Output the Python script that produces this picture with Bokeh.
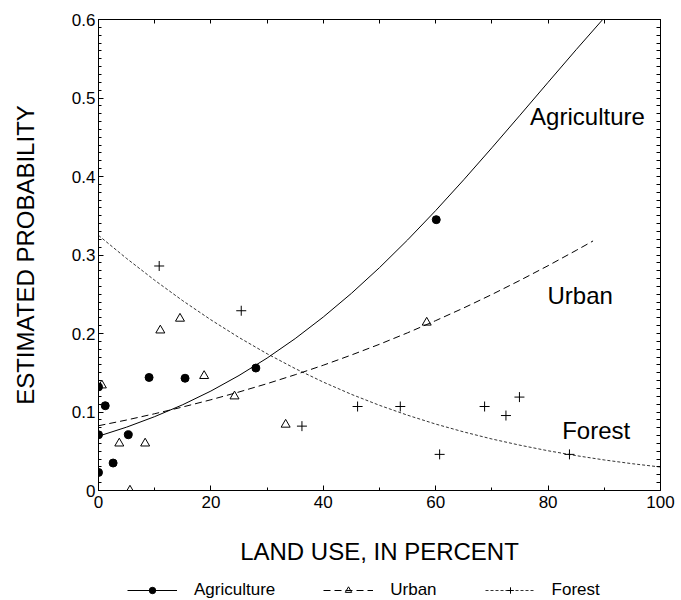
from bokeh.plotting import figure
from bokeh.layouts import column
from bokeh.models import LinearAxis, FixedTicker, Legend, LegendItem, Range1d
from bokeh.core.properties import value
from bokeh.embed import file_html
from bokeh.resources import INLINE

FONT = "Liberation Sans"

# observed points
agri_x = [0, 1.2, 0, 5.3, 2.6, 0, 9.0, 15.4, 28.0, 60.1]
agri_y = [0.132, 0.108, 0.071, 0.071, 0.035, 0.023, 0.144, 0.143, 0.156, 0.345]

urban_x = [0.6, 3.7, 8.3, 5.6, 11.0, 14.5, 18.8, 24.2, 33.3, 58.4]
urban_y = [0.134, 0.060, 0.060, 0.0, 0.204, 0.219, 0.146, 0.120, 0.084, 0.214]

forest_x = [10.8, 25.4, 36.2, 46.1, 53.7, 60.7, 68.7, 72.5, 74.9, 83.8]
forest_y = [0.286, 0.229, 0.082, 0.107, 0.107, 0.046, 0.107, 0.0955, 0.119, 0.046]

# fitted curves
agri_curve_x = [0, 5, 10, 15, 20, 25, 30, 35, 40, 45, 50, 55, 60, 65, 70, 75, 80, 85, 90]
agri_curve_y = [0.0692, 0.0807, 0.0941, 0.1093, 0.1267, 0.1465, 0.1687, 0.1935, 0.2210,
                0.2511, 0.2839, 0.3192, 0.3566, 0.3959, 0.4366, 0.4781, 0.5200, 0.5616, 0.6023]

urban_curve_x = [0, 5, 10, 15, 20, 25, 30, 35, 40, 45, 50, 55, 60, 65, 70, 75, 80, 85, 88]
urban_curve_y = [0.0825, 0.0898, 0.0978, 0.1064, 0.1156, 0.1255, 0.1361, 0.1475, 0.1596,
                 0.1726, 0.1863, 0.2009, 0.2164, 0.2326, 0.2497, 0.2677, 0.2864, 0.3059, 0.3179]

forest_curve_x = [0, 5, 10, 15, 20, 25, 30, 35, 40, 45, 50, 55, 60, 65, 70, 75, 80, 85, 90, 95, 100]
forest_curve_y = [0.325, 0.2956, 0.2678, 0.2417, 0.2174, 0.1949, 0.1742, 0.1553, 0.1381, 0.1225,
                  0.1085, 0.0959, 0.0846, 0.0746, 0.0656, 0.0577, 0.0506, 0.0444, 0.0389, 0.0341, 0.0299]

# in-plot curve labels
lab_text = ["Agriculture", "Urban", "Forest"]
lab_x = [76.8, 79.9, 82.5]
lab_y = [0.4758, 0.249, 0.0764]

# ticks
x_ticks = [0, 20, 40, 60, 80, 100]
x_minor = [10, 30, 50, 70, 90]
y_ticks = [0, 0.1, 0.2, 0.3, 0.4, 0.5, 0.6]
y_labels = ["0", "0.1", "0.2", "0.3", "0.4", "0.5", "0.6"]
y_minor = [i / 100 for i in range(0, 61)]
x_all = sorted(x_ticks + x_minor)

p = figure(width=681, height=572, x_range=Range1d(0, 100), y_range=Range1d(0, 0.6),
           output_backend="svg", toolbar_location=None,
           min_border_left=98, min_border_right=21, min_border_top=19, min_border_bottom=82)
p.xgrid.grid_line_color = None
p.ygrid.grid_line_color = None
p.outline_line_color = "black"
p.background_fill_color = "white"


def style_axis(ax):
    ax.axis_line_color = "black"
    ax.major_tick_line_color = "black"
    ax.minor_tick_line_color = "black"
    ax.major_tick_in = 5
    ax.major_tick_out = 0
    ax.minor_tick_in = 3
    ax.minor_tick_out = 0
    ax.major_label_text_font = FONT
    ax.major_label_text_color = "black"
    ax.major_label_text_font_size = "17px"


p.xaxis[0].ticker = FixedTicker(ticks=x_ticks, minor_ticks=x_minor)
p.yaxis[0].ticker = FixedTicker(ticks=y_ticks, minor_ticks=y_minor)
p.yaxis[0].major_label_overrides = {t: l for t, l in zip(y_ticks, y_labels)}
style_axis(p.xaxis[0])
style_axis(p.yaxis[0])
p.xaxis[0].major_label_standoff = 5
p.yaxis[0].major_label_standoff = 3

p.xaxis[0].axis_label = "LAND USE, IN PERCENT"
p.yaxis[0].axis_label = "ESTIMATED PROBABILITY"
for ax in (p.xaxis[0], p.yaxis[0]):
    ax.axis_label_text_font = FONT
    ax.axis_label_text_font_size = "24px"
    ax.axis_label_text_font_style = "normal"
    ax.axis_label_text_color = "black"
p.xaxis[0].axis_label_standoff = 27
p.yaxis[0].axis_label_standoff = 30

# tick marks on the top and right edges (no labels)
top_ax = LinearAxis(ticker=FixedTicker(ticks=[], minor_ticks=x_all))
right_ax = LinearAxis(ticker=FixedTicker(ticks=[], minor_ticks=y_minor))
for ax in (top_ax, right_ax):
    style_axis(ax)
    ax.minor_tick_in = 4
p.add_layout(top_ax, "above")
p.add_layout(right_ax, "right")

# curves
p.line(agri_curve_x, agri_curve_y, line_color="black", line_width=1)
p.line(urban_curve_x, urban_curve_y, line_color="black", line_width=1, line_dash="7 4")
p.line(forest_curve_x, forest_curve_y, line_color="black", line_width=0.8, line_dash="3 2")

# points
p.scatter(agri_x, agri_y, marker="circle", size=8, fill_color="black", line_color="black")
p.scatter(urban_x, urban_y, marker="triangle", size=9, fill_color=None, line_color="black", line_width=1)
p.scatter(forest_x, forest_y, marker="cross", size=10, line_color="black", line_width=1)

p.text(x=lab_x, y=lab_y, text=lab_text, text_font=value(FONT), text_font_size="24px",
       text_baseline="middle", text_align="left", text_color="black")

# legend strip below the chart (its renderers sit outside the visible range)
q = figure(width=681, height=28, output_backend="svg", toolbar_location=None,
           x_axis_type=None, y_axis_type=None, min_border=0,
           min_border_left=0, min_border_right=0, min_border_top=0, min_border_bottom=0,
           x_range=Range1d(0, 1), y_range=Range1d(0, 1))
q.outline_line_color = None
q.xgrid.grid_line_color = None
q.ygrid.grid_line_color = None
hx, hy = [-5, -4], [-5, -4]
lq_a = q.line(hx, hy, line_color="black", line_width=1)
sq_a = q.scatter(hx, hy, marker="circle", size=7, fill_color="black", line_color="black")
lq_u = q.line(hx, hy, line_color="black", line_width=1, line_dash="7 4")
sq_u = q.scatter(hx, hy, marker="triangle", size=8, fill_color=None, line_color="black")
lq_f = q.line(hx, hy, line_color="black", line_width=0.8, line_dash="3 2")
sq_f = q.scatter(hx, hy, marker="cross", size=10, line_color="black")

legend = Legend(items=[
    LegendItem(label="Agriculture", renderers=[lq_a, sq_a]),
    LegendItem(label="Urban", renderers=[lq_u, sq_u]),
    LegendItem(label="Forest", renderers=[lq_f, sq_f]),
], orientation="horizontal", location=(29, 0), glyph_width=50, glyph_height=16,
    label_standoff=17, spacing=48, padding=2, margin=0, border_line_color=None,
    background_fill_alpha=0, label_text_font=FONT, label_text_font_size="17px",
    label_text_color="black")
q.add_layout(legend, "center")

layout = column(p, q, spacing=0)
open("out.html", "w").write(file_html(layout, INLINE))
